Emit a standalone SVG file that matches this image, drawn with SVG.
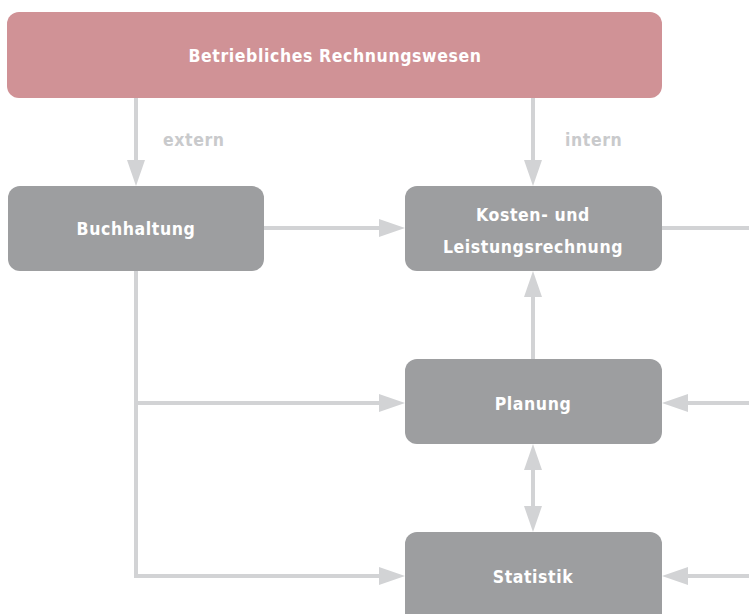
<svg xmlns="http://www.w3.org/2000/svg" width="749" height="614" viewBox="0 0 749 614">
<style>
.box{fill:#9d9ea0}
.top{fill:#d09296}
.t{font-family:"DejaVu Sans Condensed","Liberation Sans Narrow","Liberation Sans",sans-serif;font-weight:bold;font-size:17.5px;fill:#ffffff;text-anchor:middle;letter-spacing:0.6px}
.lbl{font-family:"DejaVu Sans Condensed","Liberation Sans Narrow","Liberation Sans",sans-serif;font-weight:bold;font-size:17.5px;fill:#c9cacc;letter-spacing:0.6px}
.c{stroke:#d2d3d5;stroke-width:4;fill:none}
.h{fill:#d2d3d5}
</style>
<rect width="749" height="614" fill="#ffffff"/>
<g id="connectors">
<line class="c" x1="136" y1="98" x2="136" y2="162"/>
<polygon class="h" points="127,160 145,160 136,186"/>
<line class="c" x1="533" y1="98" x2="533" y2="162"/>
<polygon class="h" points="524,160 542,160 533,186"/>
<line class="c" x1="264" y1="228" x2="382" y2="228"/>
<polygon class="h" points="379,219 379,237 405,228"/>
<line class="c" x1="662" y1="228" x2="749" y2="228"/>
<polyline class="c" points="136,271 136,576 382,576"/>
<polygon class="h" points="379,567 379,585 405,576"/>
<line class="c" x1="136" y1="403" x2="382" y2="403"/>
<polygon class="h" points="379,394 379,412 405,403"/>
<line class="c" x1="533" y1="359" x2="533" y2="295"/>
<polygon class="h" points="524,297 542,297 533,271"/>
<line class="c" x1="533" y1="468" x2="533" y2="508"/>
<polygon class="h" points="524,470 542,470 533,444"/>
<polygon class="h" points="524,506 542,506 533,532"/>
<line class="c" x1="749" y1="403" x2="686" y2="403"/>
<polygon class="h" points="688,394 688,412 662,403"/>
<line class="c" x1="749" y1="576" x2="686" y2="576"/>
<polygon class="h" points="688,567 688,585 662,576"/>
<text class="lbl" x="163" y="146">extern</text>
<text class="lbl" x="565" y="146">intern</text>
</g>
<g id="rechnungswesen">
<rect class="top" x="7" y="12" width="655" height="86" rx="12"/>
<text class="t" x="335" y="62">Betriebliches Rechnungswesen</text>
</g>
<g id="buchhaltung">
<rect class="box" x="8" y="186" width="256" height="85" rx="12"/>
<text class="t" x="136" y="235">Buchhaltung</text>
</g>
<g id="kosten">
<rect class="box" x="405" y="186" width="257" height="85" rx="12"/>
<text class="t" x="533" y="221">Kosten- und</text>
<text class="t" x="533" y="253">Leistungsrechnung</text>
</g>
<g id="planung">
<rect class="box" x="405" y="359" width="257" height="85" rx="12"/>
<text class="t" x="533" y="410">Planung</text>
</g>
<g id="statistik">
<rect class="box" x="405" y="532" width="257" height="95" rx="12"/>
<text class="t" x="533" y="583">Statistik</text>
</g>
</svg>
